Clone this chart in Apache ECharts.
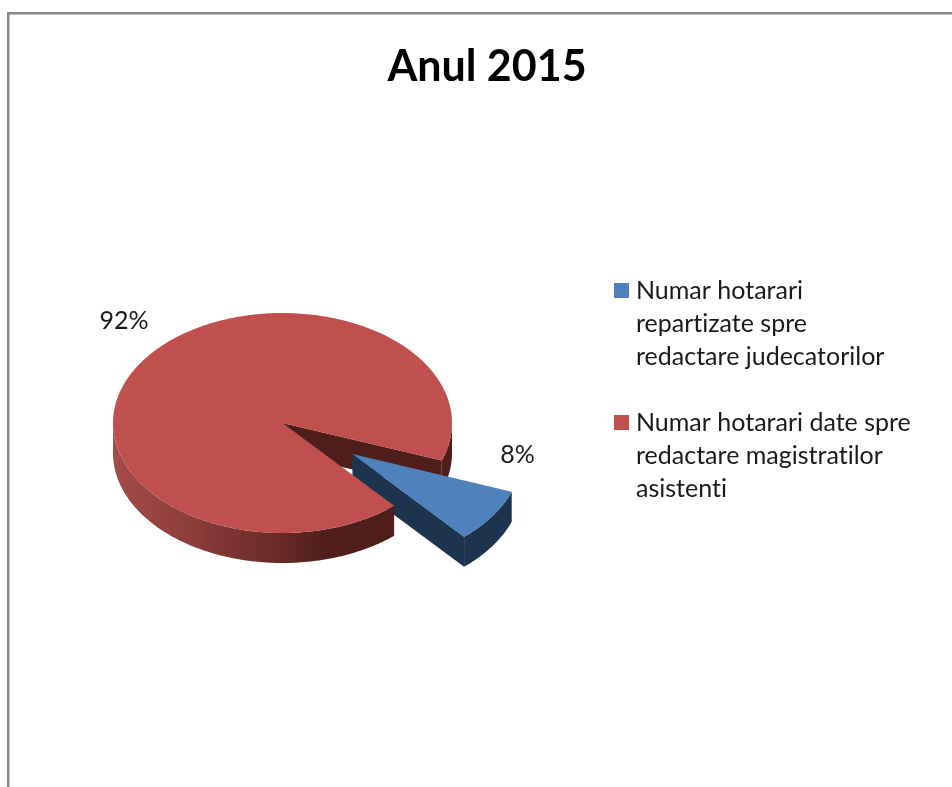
<!DOCTYPE html>
<html>
<head>
<meta charset="utf-8">
<style>html,body{margin:0;padding:0;background:#fff}#c{width:952px;height:787px}</style>
<script src="https://cdn.jsdelivr.net/npm/echarts@6/dist/echarts.min.js"></script>
</head>
<body>
<div id="c"></div>
<script>
const titleText = 'Anul 2015';
const categories = ['Numar hotarari repartizate spre redactare judecatorilor', 'Numar hotarari date spre redactare magistratilor asistenti'];
const legendLines = ['Numar hotarari\nrepartizate spre\nredactare judecatorilor', 'Numar hotarari date spre\nredactare magistratilor\nasistenti'];
const values = [8, 92];
const topColors = ['#4f81bd', '#c0504d'];

// The reference text has no "ti" ligatures: keep them off whenever a canvas font is set.
const fontProp = Object.getOwnPropertyDescriptor(CanvasRenderingContext2D.prototype, 'font');
Object.defineProperty(CanvasRenderingContext2D.prototype, 'font', {
  get() { return fontProp.get.call(this); },
  set(v) { fontProp.set.call(this, v); this.textRendering = 'optimizeSpeed'; }
});

const FONT = 'Lato, "Open Sans", sans-serif';
const CX = 282.5, CY = 423, RX = 169.5, RY = 110, DEPTH = 30;
const START = 20, EXPLODE = 0.5;
const total = values[0] + values[1];
const rad = d => d * Math.PI / 180;
const pt = (c, a, dy) => [c[0] + RX * Math.cos(rad(a)), c[1] + RY * Math.sin(rad(a)) + (dy || 0)];
function arc(c, a0, a1, dy) {
  const out = [];
  const n = Math.max(2, Math.ceil(Math.abs(a1 - a0)));
  for (let i = 0; i <= n; i++) out.push(pt(c, a0 + (a1 - a0) * i / n, dy));
  return out;
}
const poly = (points, fill, z2) => ({ type: 'polygon', z2, shape: { points }, style: { fill }, silent: true });
const rim = (c, a0, a1, fill, z2) => poly(arc(c, a0, a1, 0).concat(arc(c, a1, a0, DEPTH)), fill, z2);
const wall = (c, a, fill, z2) => {
  const e = pt(c, a);
  return poly([c, e, [e[0], e[1] + DEPTH], [c[0], c[1] + DEPTH]], fill, z2);
};
const label = (x, y, text) => ({
  type: 'text', z2: 30, x, y, silent: true,
  style: { text, fill: '#1a1a1a', font: '25px ' + FONT, textAlign: 'center', textVerticalAlign: 'middle' }
});

function renderBlue() {
  const a0 = START, a1 = START + values[0] / total * 360;
  const mid = (a0 + a1) / 2;
  const c = [CX + RX * Math.cos(rad(mid)) * EXPLODE, CY + RY * Math.sin(rad(mid)) * EXPLODE];
  const dark = '#1d344f';
  return { type: 'group', children: [
    wall(c, a1, dark, 10),
    rim(c, a0, a1, dark, 11),
    poly([c].concat(arc(c, a0, a1)), topColors[0], 12),
    label(c[0] + 165, c[1] + 1, Math.round(values[0] / total * 100) + '%')
  ] };
}
function renderRed() {
  const a0 = START + values[0] / total * 360, a1 = START + 360;
  const side = new echarts.graphic.LinearGradient(CX - RX, 0, CX + RX, 0, [
    { offset: 0, color: '#a34c49' },
    { offset: 0.25, color: '#8a3c39' },
    { offset: 0.5, color: '#662926' },
    { offset: 0.62, color: '#501f1c' },
    { offset: 1, color: '#4f1e1b' }
  ], true);
  const c = [CX, CY];
  return { type: 'group', children: [
    wall(c, START, '#4f1e1b', 1),
    rim(c, 360, a1, '#4f1e1b', 2),
    rim(c, a0, 180, side, 20),
    poly([c].concat(arc(c, a0, a1)), topColors[1], 21),
    label(124, 321, Math.round(values[1] / total * 100) + '%')
  ] };
}

const chart = echarts.init(document.getElementById('c'), null, { renderer: 'canvas' });
chart.setOption({
  animation: false,
  backgroundColor: '#ffffff',
  title: {
    text: titleText, left: 482, top: 62, textAlign: 'center', textVerticalAlign: 'middle',
    textStyle: { fontFamily: FONT, fontWeight: 'bold', fontSize: 43, color: '#000' }
  },
  legend: {
    orient: 'vertical', left: 614, top: 274, itemWidth: 15, itemHeight: 99, itemGap: 33,
    icon: 'path://M0,0L0,0ZM0,9L15,9L15,24L0,24ZM15,99L15,99Z',
    selectedMode: false, padding: 0,
    data: categories,
    formatter: name => legendLines[categories.indexOf(name)],
    textStyle: { fontFamily: FONT, fontSize: 25, lineHeight: 33, color: '#1a1a1a', padding: [0, 0, 0, 2] }
  },
  graphic: [
    { type: 'rect', silent: true, shape: { x: 7, y: 12, width: 945, height: 2.5 }, style: { fill: '#888888' } },
    { type: 'rect', silent: true, shape: { x: 7, y: 12, width: 2.5, height: 775 }, style: { fill: '#888888' } }
  ],
  series: [
    { type: 'custom', name: categories[0], coordinateSystem: 'none', itemStyle: { color: topColors[0] }, data: [values[0]], renderItem: renderBlue },
    { type: 'custom', name: categories[1], coordinateSystem: 'none', itemStyle: { color: topColors[1] }, data: [values[1]], renderItem: renderRed }
  ]
});
</script>
</body>
</html>
